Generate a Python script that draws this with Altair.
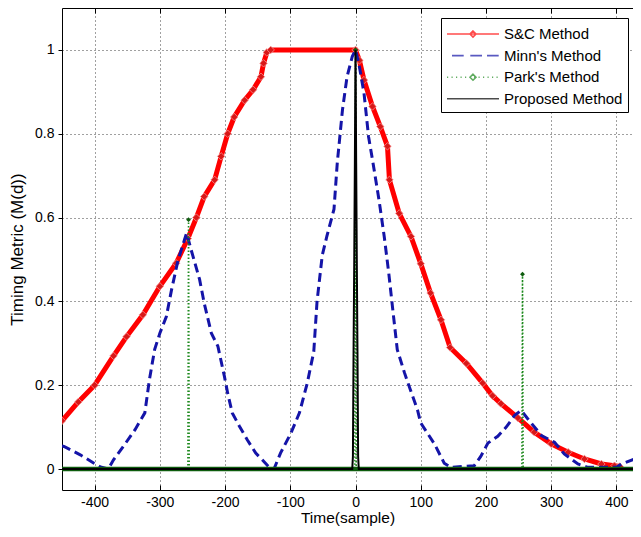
import altair as alt
import pandas as pd

# ---------------- data ----------------
methods = ["S&C Method", "Minn's Method", "Park's Method", "Proposed Method"]

sc_x = [-450, -425, -400, -371, -351, -326, -300, -275, -257, -244, -232, -216, -206,
        -196, -186, -170, -157, -145, -141, -136, -130, 0, 6, 13, 26, 38, 49, 52, 67,
        85, 100, 115, 131, 145, 170, 195, 210, 223, 249, 274, 300, 326, 351, 377, 397, 405]
sc_y = [0.115, 0.16, 0.20, 0.27, 0.316, 0.368, 0.436, 0.491, 0.55, 0.60, 0.65, 0.69, 0.746,
        0.80, 0.84, 0.88, 0.905, 0.936, 0.968, 0.994, 1.0, 1.0, 0.975, 0.928, 0.865, 0.817,
        0.77, 0.69, 0.61, 0.555, 0.49, 0.42, 0.356, 0.29, 0.252, 0.205, 0.175, 0.156, 0.122,
        0.088, 0.06, 0.04, 0.024, 0.012, 0.008, 0.006]

minn_x = [-450, -447, -422, -401, -391, -379, -371, -356, -338, -323, -316, -308, -300, -290,
          -282, -272, -259, -252, -239, -232, -221, -211, -201, -196, -189, -178, -166, -153,
          -143, -133, -125, -115, -99, -86, -74, -64, -59, -51, -44, -33, -28, -20, -13, -5,
          0, 5, 13, 20, 26, 36, 44, 51, 56, 64, 75, 85, 95, 100, 110, 121, 136, 146, 182,
          192, 203, 218, 231, 244, 254, 264, 285, 305, 320, 341, 356, 400, 408, 428, 437]
minn_y = [0.055, 0.054, 0.034, 0.014, 0.005, 0.0, 0.022, 0.054, 0.094, 0.134, 0.213, 0.285,
          0.324, 0.364, 0.428, 0.499, 0.563, 0.523, 0.452, 0.396, 0.324, 0.293, 0.221, 0.181,
          0.134, 0.102, 0.07, 0.038, 0.022, 0.005, 0.0, 0.038, 0.086, 0.134, 0.205, 0.28, 0.40,
          0.51, 0.555, 0.62, 0.73, 0.857, 0.936, 0.984, 1.0, 0.968, 0.897, 0.793, 0.738, 0.642,
          0.555, 0.467, 0.396, 0.285, 0.23, 0.185, 0.141, 0.11, 0.086, 0.06, 0.014, 0.004,
          0.008, 0.03, 0.062, 0.078, 0.10, 0.128, 0.14, 0.12, 0.08, 0.064, 0.036, 0.012, 0.004,
          0.004, 0.012, 0.024, 0.028]

park_x = [-450, -257, -256, -255, -1, 0, 1, 255, 256, 257, 437]
park_y = [0, 0, 0.595, 0, 0, 1.0, 0, 0, 0.465, 0, 0]

prop_x = [-450, -5, -4, -3, -2, -1, 0, 1, 2, 3, 4, 5, 437]
prop_y = [0, 0, 0.03, 0.28, 0.49, 0.73, 1.0, 0.73, 0.49, 0.28, 0.03, 0, 0]

x_ticks = [-400, -300, -200, -100, 0, 100, 200, 300, 400]
y_ticks = [0, 0.2, 0.4, 0.6, 0.8, 1]

# ---------------- styling ----------------
FONT = "Liberation Sans"
RED, BLUE, GREEN, DKGREEN, BLACK = "#ff0000", "#1414a8", "#1f8a1f", "#0e5c0e", "#000000"
PLOT_W, PLOT_H = 571, 482
X_DOMAIN = [-450, 425.4]


def frame(xs, ys, name):
    return pd.DataFrame({"t": xs, "m": ys, "method": name})


sc_df = frame(sc_x, sc_y, methods[0])
minn_df = frame(minn_x, minn_y, methods[1])
park_df = frame(park_x, park_y, methods[2])
prop_df = frame(prop_x, prop_y, methods[3])

xscale = alt.Scale(domain=X_DOMAIN, nice=False, zero=False)
X = alt.X("t:Q", scale=xscale,
          axis=alt.Axis(values=x_ticks, labelExpr="'' + datum.value", title="Time(sample)",
                        grid=True, ticks=False, labelPadding=5, titlePadding=1,
                        labelFontSize=14, titleFontSize=15.5))
Y = alt.Y("m:Q",
          scale=alt.Scale(domain=[-0.05, 1.1], nice=False, zero=False),
          axis=alt.Axis(values=y_ticks, labelExpr="'' + datum.value", title="Timing Metric (M(d))",
                        grid=True, ticks=True, tickSize=4, labelPadding=4, titlePadding=8,
                        labelFontSize=14, titleFontSize=17))

sc_line = alt.Chart(sc_df).mark_line(color=RED, strokeWidth=5, clip=True).encode(x=X, y=Y)
sc_pts = alt.Chart(sc_df).mark_point(shape="diamond", filled=True, size=55, fill="#d81818",
                                     stroke="#f49090", strokeWidth=0.8, opacity=1,
                                     clip=True).encode(x=X, y=Y)
minn_line = alt.Chart(minn_df).mark_line(color=BLUE, strokeWidth=3, strokeDash=[9, 5],
                                         clip=True).encode(x=X, y=Y)
park_line = alt.Chart(park_df).mark_line(color=GREEN, strokeWidth=1.6, strokeDash=[1.5, 2],
                                         clip=True).encode(x=X, y=Y)
park_band = alt.Chart(park_df).transform_filter("datum.m < 0.01").mark_line(
    color=DKGREEN, strokeWidth=4.5, clip=True).encode(x=X, y=Y)
park_pts = alt.Chart(park_df).transform_filter("datum.m > 0.01").mark_point(
    shape="diamond", filled=True, size=24, color=DKGREEN, opacity=1, clip=True).encode(x=X, y=Y)
prop_line = alt.Chart(prop_df).mark_line(color=BLACK, strokeWidth=2, clip=True).encode(x=X, y=Y)

# legend symbols: custom paths (unit = 10 px at symbolSize 400)
dots = "".join("M%.2f,0L%.2f,0" % (-2.6 + i * 0.45, -2.6 + i * 0.45 + 0.12) for i in range(12))
paths = [
    "M-2.6,0L2.6,0M0,-0.3L0.3,0L0,0.3L-0.3,0Z",
    "M-2.1,0L-0.93,0M-0.27,0L0.9,0M1.4,0L2.57,0",
    dots + "M0,-0.3L0.3,0L0,0.3L-0.3,0Z",
    "M-2.6,0L2.6,0",
]
leg = alt.Legend(title=None, orient="none", legendX=379, legendY=10, symbolSize=400,
                 symbolOffset=16, labelOffset=20, padding=5, rowPadding=2.6,
                 strokeColor="#000000", fillColor="#ffffff", cornerRadius=0,
                 labelFont=FONT, labelFontSize=15, labelColor="#000000", labelLimit=300,
                 symbolStrokeWidth=1.6)
legend_df = pd.DataFrame({"t": [0, 0, 0, 0], "m": [0, 0, 0, 0], "method": methods})
legend_layer = alt.Chart(legend_df).transform_filter("false").mark_point(filled=False).encode(
    x=X, y=Y,
    color=alt.Color("method:N", scale=alt.Scale(domain=methods, range=[RED, BLUE, GREEN, BLACK]),
                    legend=leg),
    shape=alt.Shape("method:N", scale=alt.Scale(domain=methods, range=paths), legend=leg),
)

main = alt.layer(sc_line, sc_pts, minn_line, park_line, park_band, park_pts, prop_line,
                 legend_layer)

# box top edge with inward ticks, and inward ticks on the bottom edge
top_edge = alt.Chart(legend_df).transform_filter("false").mark_point().encode(
    x=alt.X("t:Q", scale=xscale,
            axis=alt.Axis(orient="bottom", offset=-PLOT_H, values=x_ticks, labels=False,
                          ticks=True, tickSize=5, grid=False, domain=True, title=None)))
bottom_ticks = alt.Chart(legend_df).transform_filter("false").mark_point().encode(
    x=alt.X("t:Q", scale=xscale,
            axis=alt.Axis(orient="top", offset=-PLOT_H, values=x_ticks, labels=False,
                          ticks=True, tickSize=5, grid=False, domain=False, title=None)))

chart = alt.layer(main, top_edge, bottom_ticks).resolve_scale(x="independent").properties(
    width=PLOT_W, height=PLOT_H,
    autosize=alt.AutoSizeParams(type="none"),
    padding={"left": 54, "top": 0, "right": 0, "bottom": 39},
    background="#ffffff",
).configure_view(stroke=None).configure_axis(
    labelFont=FONT, titleFont=FONT, labelColor="#000000", titleColor="#000000",
    titleFontWeight="normal", domainColor="#000000", tickColor="#000000",
    gridColor="#000000", gridDash=[1, 3], gridOpacity=0.75, gridWidth=1,
)

chart.save("out.html", embed_options={"renderer": "svg", "actions": False})
